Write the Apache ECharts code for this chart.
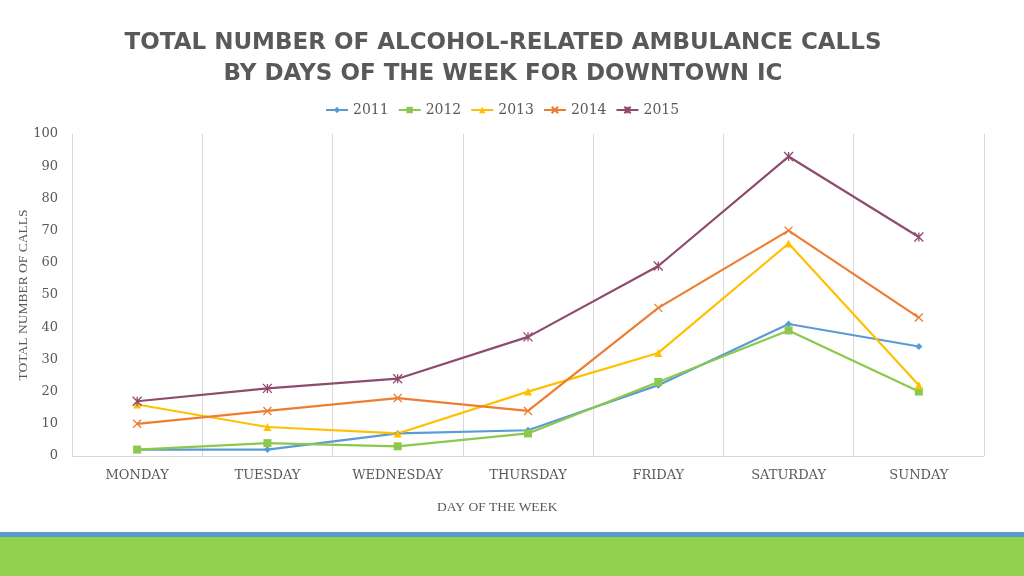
<!DOCTYPE html>
<html><head><meta charset="utf-8">
<script src="https://cdn.jsdelivr.net/npm/echarts@6/dist/echarts.min.js"></script>
<style>html,body{margin:0;padding:0;background:#fff}#c{width:1024px;height:576px}</style>
</head><body><div id="c"></div>
<script>
const categories = ['MONDAY','TUESDAY','WEDNESDAY','THURSDAY','FRIDAY','SATURDAY','SUNDAY'];
const years = ['2011','2012','2013','2014','2015'];
const s2011 = [2, 2, 7, 8, 22, 41, 34];
const s2012 = [2, 4, 3, 7, 23, 39, 20];
const s2013 = [16, 9, 7, 20, 32, 66, 22];
const s2014 = [10, 14, 18, 14, 46, 70, 43];
const s2015 = [17, 21, 24, 37, 59, 93, 68];
const yTicks = [0, 100, 10];

const colors = ['#5B9BD5', '#8CC84B', '#FFC000', '#ED7D31', '#8E4B6E'];
const xPath = 'path://M0,0L10,10M10,0L0,10';
const starPath = 'path://M0,0L10,10M10,0L0,10M5,0L5,10';
const symbols = ['diamond', 'rect', 'triangle', xPath, starPath];
const sizes = [7, 8, 8, 8, 9];
const data = [s2011, s2012, s2013, s2014, s2015];

const chart = echarts.init(document.getElementById('c'));
const serif = 'DejaVu Serif';
chart.setOption({
  animation: false,
  title: {
    text: 'TOTAL NUMBER OF ALCOHOL-RELATED AMBULANCE CALLS\nBY DAYS OF THE WEEK FOR DOWNTOWN IC',
    left: 498, top: 23, textAlign: 'center',
    textStyle: {fontFamily: 'DejaVu Sans', fontWeight: 'bold', fontSize: 23, color: '#595959', lineHeight: 31}
  },
  legend: {
    data: years, top: 98, itemWidth: 22, itemHeight: 8, itemGap: 9,
    textStyle: {fontFamily: serif, fontSize: 14, color: '#595959'},
    left: 320
  },
  grid: {left: 72, right: 40, top: 134, bottom: 120},
  xAxis: {
    type: 'category', data: categories, boundaryGap: true,
    axisLine: {lineStyle: {color: '#d9d9d9'}}, axisTick: {show: false},
    splitLine: {show: true, lineStyle: {color: '#d9d9d9'}},
    axisLabel: {fontFamily: serif, fontSize: 13, color: '#595959', margin: 13}
  },
  yAxis: {
    type: 'value', min: yTicks[0], max: yTicks[1], interval: yTicks[2],
    axisLine: {show: false}, axisTick: {show: false}, splitLine: {show: false},
    axisLabel: {fontFamily: serif, fontSize: 13, color: '#595959', margin: 14}
  },
  graphic: [
    {type: 'text', x: 23, y: 295, rotation: Math.PI / 2,
     style: {text: 'TOTAL NUMBER OF CALLS', font: '13.5px "Liberation Serif"', fill: '#595959', textAlign: 'center', textVerticalAlign: 'middle'}},
    {type: 'text', left: 437, top: 500, style: {text: 'DAY OF THE WEEK', font: '13.5px "Liberation Serif"', fill: '#595959'}},
    {type: 'rect', shape: {x: 0, y: 532, width: 1024, height: 5}, style: {fill: '#5899D0'}},
    {type: 'rect', shape: {x: 0, y: 537, width: 1024, height: 39}, style: {fill: '#92D050'}}
  ],
  series: years.map((y, i) => ({
    name: y, type: 'line', data: data[i], symbol: symbols[i], symbolSize: sizes[i],
    lineStyle: {color: colors[i], width: 2.2},
    itemStyle: {color: colors[i], borderColor: colors[i], borderWidth: i >= 3 ? 1.3 : 0}
  }))
});
</script></body></html>
